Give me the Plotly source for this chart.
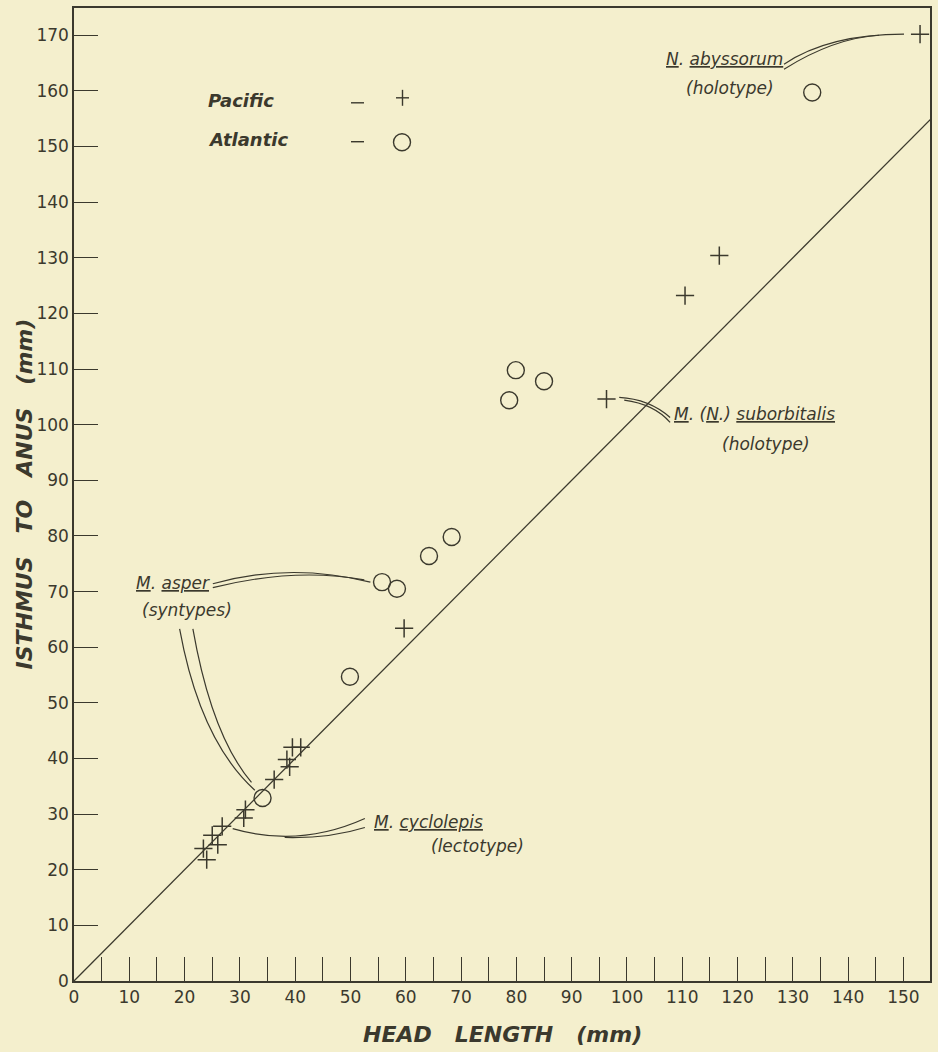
import plotly.graph_objects as go

# ---------------- data ----------------
pacific_head = [23.4, 24.0, 25.0, 26.0, 26.8, 30.7, 31.0, 36.2, 38.5, 39.0,
                39.5, 41.0, 59.7, 96.3, 110.5, 116.7, 153.0]
pacific_isthmus = [23.8, 21.8, 26.2, 24.5, 27.8, 29.3, 30.8, 36.2, 39.8, 38.5,
                   42.0, 42.0, 63.4, 104.6, 123.2, 130.4, 170.2]

atlantic_head = [34.1, 49.9, 55.7, 58.4, 64.2, 68.3, 78.7, 79.9, 85.0, 133.5]
atlantic_isthmus = [32.9, 54.7, 71.7, 70.5, 76.4, 79.8, 104.4, 109.8, 107.8, 159.7]

equality_x = [0, 160]
equality_y = [0, 160]

x_tick_vals = list(range(0, 151, 10))
x_tick_text = [str(v) for v in x_tick_vals]
y_tick_vals = list(range(0, 171, 10))
y_tick_text = [str(v) for v in y_tick_vals]

# ---------------- style ----------------
INK = "#3b392d"
BG = "#f4efcd"
FONT = "DejaVu Sans"

fig = go.Figure()

fig.add_trace(go.Scatter(
    x=equality_x, y=equality_y, mode="lines",
    line=dict(color=INK, width=1.3), hoverinfo="skip", showlegend=False))

fig.add_trace(go.Scatter(
    x=pacific_head, y=pacific_isthmus, mode="markers", name="Pacific",
    marker=dict(symbol="cross-thin", size=13, color=INK,
                line=dict(color=INK, width=1.5)),
    showlegend=False))

fig.add_trace(go.Scatter(
    x=atlantic_head, y=atlantic_isthmus, mode="markers", name="Atlantic",
    marker=dict(symbol="circle-open", size=17, color=INK,
                line=dict(color=INK, width=1.4)),
    showlegend=False))

# ---------------- leader lines (curved, doubled) ----------------
def qpath(p0, c, p1):
    return f"M {p0[0]},{p0[1]} Q {c[0]},{c[1]} {p1[0]},{p1[1]}"

leaders = [
    # N. abyssorum
    ((128.4, 164.8), (136.5, 170.2), (150.1, 170.2)),
    ((128.4, 163.9), (137.4, 169.5), (145.6, 170.0)),
    # M. (N.) suborbitalis
    ((98.6, 104.9), (104.0, 104.6), (107.8, 101.3)),
    ((99.5, 104.4), (104.9, 103.7), (107.8, 100.4)),
    # M. asper -> upper circle
    ((25.1, 71.4), (39.0, 75.3), (53.6, 71.7)),
    ((25.1, 70.7), (39.9, 74.4), (52.5, 72.1)),
    # M. asper -> lower circle
    ((19.1, 63.3), (22.8, 43.2), (32.7, 34.3)),
    ((21.5, 63.3), (24.9, 44.1), (32.1, 35.7)),
    # M. cyclolepis
    ((28.7, 27.4), (40.8, 23.9), (52.6, 29.2)),
    ((38.1, 25.8), (46.2, 25.6), (52.6, 27.6)),
]
for p0, c, p1 in leaders:
    fig.add_shape(type="path", xref="x", yref="y", path=qpath(p0, c, p1),
                  line=dict(color=INK, width=1.2))

# ---------------- annotation labels ----------------
lab_font = dict(family=FONT, size=17, color=INK, style="italic")

def label(x, y, text, xanchor="center"):
    fig.add_annotation(x=x, y=y, xref="x", yref="y", text=text, showarrow=False,
                       font=lab_font, xanchor=xanchor, yanchor="middle")

label(128.6, 165.7, "<u>N</u>. <u>abyssorum</u>", xanchor="right")
label(118.6, 160.5, "(holotype)")
label(108.1, 101.9, "<u>M</u>. (<u>N</u>.) <u>suborbitalis</u>", xanchor="left")
label(125.2, 96.6, "(holotype)")
label(25.0, 71.6, "<u>M</u>. <u>asper</u>", xanchor="right")
label(20.4, 66.7, "(syntypes)")
label(53.9, 28.5, "<u>M</u>. <u>cyclolepis</u>", xanchor="left")
label(73.0, 24.2, "(lectotype)")

# ---------------- legend (drawn) ----------------
leg_font = dict(family=FONT, size=18, color=INK, style="italic", weight="bold")
PW, PH, L, B = 856.0, 975.0, 74.0, 981.0

def px(xp):
    return (xp - L) / PW

def py(yp):
    return (B - yp) / PH

legend_rows = [("Pacific", 99, "cross"), ("Atlantic", 138, "circle")]
for name, yrow, sym in legend_rows:
    fig.add_annotation(x=px(206), y=py(yrow), xref="paper", yref="paper",
                       text=name, showarrow=False, font=leg_font,
                       xanchor="left", yanchor="middle")
    fig.add_shape(type="line", xref="paper", yref="paper",
                  x0=px(351), x1=px(364), y0=py(yrow + 2), y1=py(yrow + 2),
                  line=dict(color=INK, width=1.4))
    if sym == "circle":
        fig.add_shape(type="circle", xref="paper", yref="paper",
                      x0=px(393.5), x1=px(410.5), y0=py(yrow + 11), y1=py(yrow - 6),
                      line=dict(color=INK, width=1.4))
    else:
        fig.add_shape(type="line", xref="paper", yref="paper",
                      x0=px(396), x1=px(409), y0=py(yrow - 3), y1=py(yrow - 3),
                      line=dict(color=INK, width=1.4))
        fig.add_shape(type="line", xref="paper", yref="paper",
                      x0=px(402.5), x1=px(402.5), y0=py(yrow - 11), y1=py(yrow + 5),
                      line=dict(color=INK, width=1.4))

# ---------------- axis titles ----------------
title_font = dict(family=FONT, size=22, color=INK, style="italic", weight="bold")
fig.add_annotation(x=0.5, y=py(1035), xref="paper", yref="paper",
                   text="HEAD   LENGTH   (mm)", showarrow=False, font=title_font,
                   xanchor="center", yanchor="middle")
fig.add_annotation(x=px(24), y=0.5, xref="paper", yref="paper",
                   text="ISTHMUS   TO   ANUS   (mm)", showarrow=False, font=title_font,
                   textangle=-90, xanchor="center", yanchor="middle")

tick_font = dict(family=FONT, size=17, color=INK)

fig.update_xaxes(
    range=[0, 154.8], showgrid=False, zeroline=False,
    showline=True, linecolor=INK, linewidth=1.5, mirror=True,
    tickmode="array", tickvals=x_tick_vals, ticktext=x_tick_text,
    ticks="inside", ticklen=24, tickwidth=1.2, tickcolor=INK,
    minor=dict(dtick=5, ticks="inside", ticklen=24, tickwidth=1.2, tickcolor=INK,
               showgrid=False),
    tickfont=tick_font, fixedrange=True)

fig.update_yaxes(
    range=[0, 174.9], showgrid=False, zeroline=False,
    showline=True, linecolor=INK, linewidth=1.5, mirror=True,
    tickmode="array", tickvals=y_tick_vals, ticktext=y_tick_text,
    ticks="inside", ticklen=24, tickwidth=1.2, tickcolor=INK,
    tickfont=tick_font, fixedrange=True)

fig.update_layout(
    width=938, height=1052,
    margin=dict(l=74, r=8, t=6, b=71),
    paper_bgcolor=BG, plot_bgcolor=BG,
    showlegend=False,
    font=dict(family=FONT, color=INK),
)

fig.write_html(
    "out.html",
    config={"displayModeBar": False},
    post_script="document.body.style.margin='0px';document.body.style.overflow='hidden';document.body.style.background='" + BG + "';",
)
